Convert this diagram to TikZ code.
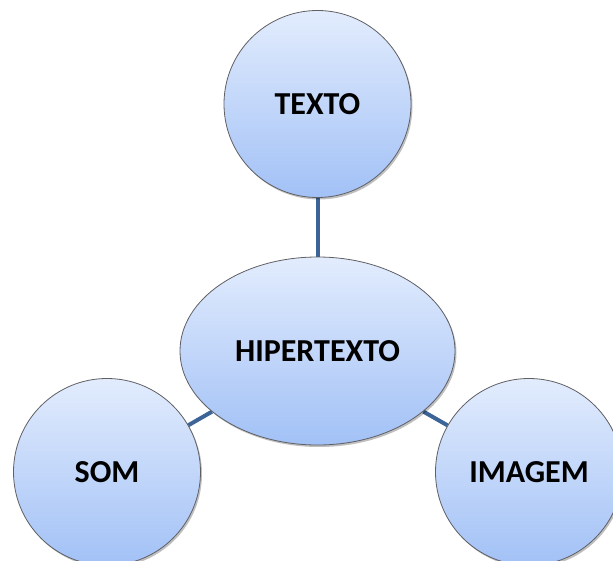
\documentclass[tikz,border=0pt]{standalone}
\usepackage{fontspec}
\setmainfont{Carlito}
\usetikzlibrary{shapes.geometric,shadows,backgrounds}
\definecolor{topc}{RGB}{226,236,253}
\definecolor{botc}{RGB}{162,193,246}
\definecolor{edgec}{RGB}{95,95,100}
\definecolor{linec}{RGB}{60,100,150}
\tikzset{
  bubble/.style={draw=edgec, line width=0.8pt, top color=topc, bottom color=botc,
    inner sep=0pt, font=\fontsize{32}{36}\selectfont\bfseries,
    drop shadow={shadow xshift=1.5pt, shadow yshift=-2pt, opacity=0.25, fill=black}},
  roundbubble/.style={bubble, circle, minimum size=187pt},
  ovalbubble/.style={bubble, ellipse, minimum width=275pt, minimum height=188pt},
  conn/.style={draw=linec, line width=4pt}
}
\begin{document}
\begin{tikzpicture}[x=1pt,y=-1pt]
\useasboundingbox (0,0) rectangle (613,561);
\node[ovalbubble] (hip) at (317.5,351) {HIPERTEXTO};
\node[roundbubble] (texto) at (317.5,104) {TEXTO};
\node[roundbubble] (som) at (107,472) {SOM};
\node[roundbubble] (img) at (529,472) {IMAGEM};
\begin{scope}[on background layer]
\draw[conn] (hip) -- (texto);
\draw[conn] (hip) -- (som);
\draw[conn] (hip) -- (img);
\end{scope}
\end{tikzpicture}
\end{document}
